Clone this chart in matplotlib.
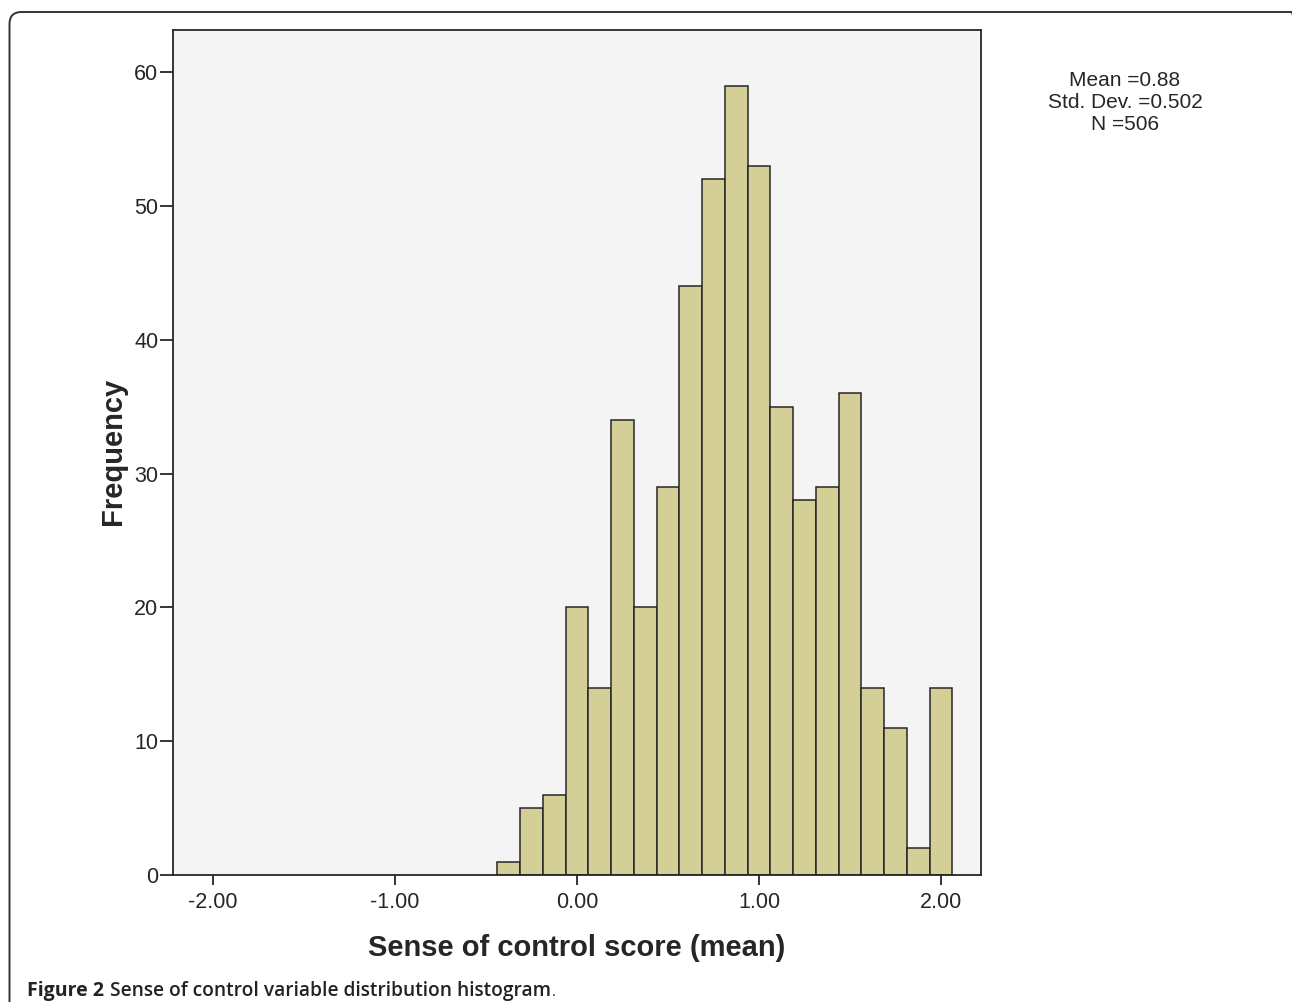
import matplotlib
matplotlib.use("Agg")
import matplotlib.pyplot as plt
from matplotlib.patches import FancyBboxPatch
from matplotlib.transforms import IdentityTransform

# histogram bins (left edge, width) and counts
bin_start = -0.4375
bin_width = 0.125
counts = [1, 5, 6, 20, 14, 34, 20, 29, 44, 52, 59, 53, 35, 28, 29, 36, 14, 11, 2, 14]
x_ticks = [-2.0, -1.0, 0.0, 1.0, 2.0]
y_ticks = [0, 10, 20, 30, 40, 50, 60]
stats_lines = ["Mean =0.88", "Std. Dev. =0.502", "N =506"]

plt.rcParams['font.family'] = ['Liberation Sans', 'DejaVu Sans']

fig = plt.figure(figsize=(12.92, 10.02), dpi=100)
W, H = 1292, 1002

# rounded frame around the figure (pixel coords, y up)
frame = FancyBboxPatch((9.5, -20), 1294, H - 12 + 20,
                       boxstyle="round,pad=0,rounding_size=12",
                       transform=IdentityTransform(), fill=False,
                       edgecolor="#333333", linewidth=1.4)
fig.add_artist(frame)

ax = fig.add_axes([173 / W, 1 - 875 / H, (981 - 173) / W, (875 - 30) / H])
ax.set_facecolor("#f4f4f4")

lefts = [bin_start + i * bin_width for i in range(len(counts))]
ax.bar(lefts, counts, width=bin_width, align="edge", color="#d3cf96",
       edgecolor="#262626", linewidth=1.1, zorder=2)

ax.set_xlim(-2.22, 2.22)
ax.set_ylim(0, 63.15)
ax.set_xticks(x_ticks)
ax.set_xticklabels(["%.2f" % v for v in x_ticks])
ax.set_yticks(y_ticks)
ax.tick_params(axis="both", direction="out", width=1.3,
               colors="#262626", labelsize=15.5)
ax.tick_params(axis="x", length=7.5, pad=5)
ax.tick_params(axis="y", length=9.5, pad=1)
for s in ax.spines.values():
    s.set_linewidth(1.3)
    s.set_color("#262626")

fig.text(577 / W, 1 - 948 / H, "Sense of control score (mean)", ha="center",
         va="center", fontsize=21, fontweight="bold", color="#262626")
fig.text(113 / W, 1 - 451 / H, "Frequency", ha="center", va="center",
         rotation=90, fontsize=21, fontweight="bold", color="#262626")

fig.text(1125 / W, 1 - 103 / H, "\n".join(stats_lines), ha="center",
         va="center", fontsize=15, linespacing=1.2, color="#262626")

# caption: bold label followed by the title
r = fig.canvas.get_renderer()
t1 = fig.text(27 / W, 1 - 996 / H, "Figure 2", ha="left", va="baseline",
              fontsize=14, fontweight="bold", family="Open Sans", color="#222222")
bb = t1.get_window_extent(renderer=r)
t2 = fig.text((bb.x1 + 6) / W, 1 - 996 / H, "Sense of control variable distribution histogram",
              ha="left", va="baseline", fontsize=13.8, fontweight="semibold",
              family="Open Sans", color="#222222")
bb2 = t2.get_window_extent(renderer=r)
fig.text((bb2.x1 + 1) / W, 1 - 996 / H, ".", ha="left", va="baseline",
         fontsize=11, family="Open Sans", color="#222222")

fig.savefig("out.png", dpi=100)
